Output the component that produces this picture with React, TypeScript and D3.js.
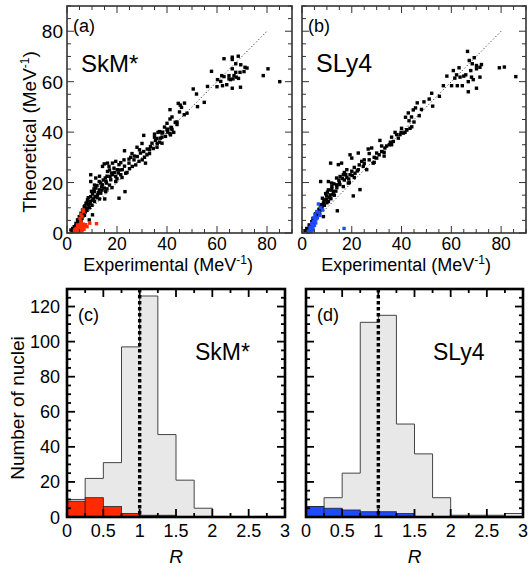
import * as d3 from "d3";
import React from "react";

// scatter: [experimental, theoretical] in MeV^-1
const skmBlack: [number, number][] = [
  [62.8,69.1],[66.1,69.7],[66.1,68.8],[68.5,70.1],[67.5,67.1],[69.5,66.7],[71.2,65.7],[72,65.4],[66.1,65.1],[67.5,63.7],
  [69.2,63.7],[70.8,64],[66.8,62.4],[67.7,61.8],[64.8,62.4],[61.9,62.4],[62.8,62],[60.2,60.8],[61.5,60.1],[64.8,61.1],
  [65.4,60.8],[66.4,61.1],[68.6,61.3],[63.9,58.8],[62.2,58.4],[60,58],[66.1,57.4],[69.4,57.8],[57.8,64.1],[56.2,58.1],
  [50.5,57.1],[51.8,55.1],[54.9,51.8],[52.2,50.1],[44.5,51.4],[45.3,50.7],[45.8,49.8],[41.2,48.9],[46.9,46.9],[41.2,45.2],
  [43.3,43.9],[44,43],[41.6,41.9],[40.3,41.2],[37,40.2],[38.3,40],[40.3,40],[41.2,39.4],[78.5,62.4],[80.4,65.1],[85.1,60],
  [36.4,39.9],[38,39.6],[40,40.9],[41.4,38.9],[39.4,38.3],[37.4,37.6],[35.4,36.7],[34,35.6],[33.4,34.3],[32.1,33.3],
  [36.1,35.4],[38,35.6],[41.8,41.6],[42.7,39.9],[30.7,38.7],[29.4,31.7],[30.7,32.3],[28.1,30.3],[30.1,29],[28.8,28.4],
  [31.4,27.7],[26.8,29],[26.1,26.4],[24.8,27.7],[23,32.6],[24.8,29.3],[22.8,29],[21.5,27.9],[20.8,27.1],[19.5,28.4],
  [18.2,27.7],[16.2,27.7],[14.9,27.4],[14.2,26.4],[16.8,26.4],[18.8,25.7],[20.1,25.1],[22.1,25.1],[23.5,23.7],[21.5,23.1],
  [19.5,22.4],[18.2,23.1],[16.2,24.4],[17.5,21.1],[19.5,20.4],[15.3,21.8],[15.8,19.8],[14.2,19.1],[12.9,20.4],[11.5,21.8],
  [9.5,23.1],[9.5,20.4],[11.5,17.8],[12.9,17.1],[14.9,17.8],[15.5,16.4],[13.5,15.8],[12.2,15.1],[10.9,16.4],[10.2,15.5],
  [9.5,14.4],[15.1,13.5],[20.8,13.8],[23.2,16.4],[8.2,13.1],[9.1,12.5],[7.6,11.8],[8.6,11.1],[6.9,10.4],[7.8,9.8],
  [6.2,9.1],[7.3,8.5],[5.6,7.8],[6.5,7.2],[4.9,6.5],[6,5.8],[4.2,5.2],[5.6,4.5],[3.6,3.8],[4.9,3.2],
  [2.9,2.5],[4.2,2.2],[2.3,1.8],[3.3,1.2],[1.6,1.2],[8.9,5.2],[10.2,7.2],
  [27,30.5],[25.5,30],[29,33],[32,31],[33,33],[34.5,33.5],[35,38],[36,37.5],[31,30],[27.5,27],
  [25,25.5],[23,26.5],[21,25],[24,24],[22,22],[20,21.5],[17,19],[18,18],[16,17.5],[13,13.5],
  [11,12.5],[10,11],[12,14],[10.5,13.5],[9,10],[8,9],[7,7],[5.5,5.5],[4.5,4],[3.5,2.8],
  [11,19],[13,22.5],[19,24],[17,25],[26,31.5],[28,34],[30,35.5],[39,42],[40,43.5],[42,46],
  [38,38],[36,34],[33,31.5],[44,44],[45,48],[48,47.5],[47,51.5],[42,41],[37,36],[35,39.2],
  [8.5,14],[9.8,16.5],[10.8,17.5],[12,18.8],[13.5,19.8],[14.5,21],[16,22.5],[17.8,23.8],[11.2,14.5],[12.5,16],
  [14,17],[7.2,10.8],[8.1,12.2],[9.3,11.8],[10.1,13],[6.6,8.1],[7.7,9.2],[5.2,6.1],[6.3,6.7],[4.4,4.8],
  [5.1,5],[3.8,3],[2.6,1.5],[3.9,1.6],[2.1,0.8],[4.7,3.9],[13.8,18.3],[15.6,20.5],[17.2,22.4],[20.5,23.8],
];
const skmRed: [number, number][] = [
  [6.4,9.1],[6.6,8.6],[5.6,7.4],[5.2,5.8],[6,6.5],[4.2,3.2],[5.6,2.5],[3.6,1.8],[4.6,1.4],[6.2,2.3],
  [5,1],[3,0.8],[7,2.8],[5.5,4.5],[4.8,2],[6.8,1.5],[9.1,3.9],[11.8,3.7],[7.5,3.3],[4,0.5],
  [5.8,0.7],[6.5,3.5],[3.5,0.6],[8,2.5],[4.4,2.6],[5.3,3.4],[6.1,1.2],[3.2,1.3],
];
const sly4Black: [number, number][] = [
  [66.5,72],[69.2,69.5],[67.2,68.4],[68.4,67.1],[70.1,66.4],[72.1,66.8],[71.5,65.7],[70.1,65.1],[67.8,64.4],[63.1,65.5],
  [60.8,64.4],[58.2,62.2],[62.1,62.7],[63.5,61.8],[61.4,61.4],[65,62.2],[65.8,62.7],[68.1,61.8],[68.8,60.8],[71.5,61.8],
  [66.8,60],[56.8,58.4],[60.1,58.4],[62.4,58.4],[64.4,58.4],[70.1,57.4],[66.8,56],[55.2,54.2],[52.1,55.4],[51.1,53.1],
  [52.5,50.3],[46.3,51.6],[45.6,49.6],[44.7,48.8],[42.7,47.6],[41.6,45.9],[47.1,46.5],[44.1,42.1],[43.4,41.5],[42.1,40.9],
  [41.4,39.9],[39.8,39.9],[79.3,65.5],[81.3,65.8],[85.9,62],
  [37.4,39.9],[39.4,39],[40.7,39.6],[42,40.9],[38.7,37.6],[36.7,36.3],[35.1,35],[33.3,33.7],[31.3,36.7],[32,32.3],
  [30,31.7],[28,33.7],[26.6,33.3],[22.6,31.7],[19.3,31],[20,29.7],[15.9,27.7],[14.6,27.1],[11.5,27.7],[24,28.4],
  [24.6,26.4],[26,25.1],[28.6,27.7],[30,29.7],[22.6,25.1],[21.3,23.7],[19.3,23.1],[18,25.1],[16.6,23.1],[15.3,22.4],
  [13.9,21.8],[7.5,20.4],[10.6,20.4],[11.9,19.8],[13.9,19.1],[16.6,18.4],[18.6,19.8],[23.3,17.2],[20.6,14.7],[10.6,17.1],
  [12.6,16.4],[11.3,15.1],[9.9,14.7],[9.2,13.1],[8.6,11.8],[10.6,12.5],[14.2,8.8],[7.9,9.8],[7.2,8.9],[6.6,7.8],
  [5.6,6.5],[4.8,5.4],[3.9,4.5],[2.9,3.2],[1.9,1.8],[1.2,0.9],[8.6,6.5],
  [34,34.5],[35.5,36],[36,38],[33,32],[31,31],[29,30],[27,29],[25,27.5],[23,27],[21,26],
  [20,24.5],[18,22],[17,21],[15,20],[14,18],[12,17.5],[13,15],[11,14],[10,12],[9,11],
  [8,10.5],[7,8],[6,7],[5,5.5],[4,4],[3,2.5],[2.5,1.5],[12,18.5],[17,24],[25,29],
  [27,31.5],[29,28],[32,34.5],[38,39],[40,41.5],[43,44.5],[44,46],[48,49],[49,52],[45,44],
  [36,35],[33,30.5],[21,22],[19,20],
  [8.2,13.8],[9.5,15.6],[10.2,16.2],[11.8,17],[12.8,19.5],[14.8,21],[16.2,21.6],[17.6,23.2],[11.6,13.6],[12.4,15.2],
  [13.6,16.6],[7.6,11.2],[8.8,12.8],[9.8,13.4],[6.8,9.4],[7.4,10.2],[5.4,7.6],[6.2,8.2],[4.4,5.8],[5.1,4.6],
  [3.4,2.2],[2.2,0.9],[4.2,3.4],[3.1,1.2],[15.2,19.2],[18.8,21.4],[20.2,22.8],[22.2,24.6],
];
const sly4Blue: [number, number][] = [
  [6.6,11.5],[8.3,9.1],[5.9,8.5],[5.2,7.2],[4.8,6],[3.9,3.8],[4.3,3],[3.2,2.3],[5.2,5.2],[4.3,1.2],
  [16.9,1.8],[7.2,7],[3.5,1.5],[2.8,0.8],[4,2],[5.5,4],[6.2,6],[3.6,0.5],[4.6,4.5],[7.5,10],
  [5,3],[2.5,0.4],[4.4,2.2],[5.8,5.6],[3.9,1],[6.8,8.2],
];

// histograms of R, bins of 0.25 from 0 to 3
const binStarts = d3.range(0, 3, 0.25);
const skmAll = [10, 22, 31, 97, 126, 47, 21, 5, 0, 0, 0, 0];
const skmSub = [9, 11, 6, 2, 1, 1, 0, 0, 0, 0, 0, 0];
const sly4All = [6, 11, 25, 111, 115, 53, 36, 11, 1, 1, 1, 2];
const sly4Sub = [6, 5, 4, 3, 3, 2, 0, 0, 0, 0, 0, 0];

const scatterTicks = d3.range(0, 91, 5);
const scatterLabels = [0, 20, 40, 60, 80];
const histXTicks = d3.range(0, 3.01, 0.25);
const histXLabels = [0, 0.5, 1, 1.5, 2, 2.5, 3];
const histYTicks = d3.range(0, 131, 5);
const histYLabels = [0, 20, 40, 60, 80, 100, 120];

const FONT = "Liberation Sans, Arial, Helvetica, sans-serif";

function Scatter({ x0, y0, w, h, black, hi, hiColor, tag, name, nameSize, yLabels }: any) {
  const x = d3.scaleLinear().domain([0, 90]).range([x0, x0 + w]);
  const y = d3.scaleLinear().domain([0, 90]).range([y0 + h, y0]);
  const s = 3.4;
  return (
    <g>
      <line x1={x(0)} y1={y(0)} x2={x(80)} y2={y(80)} stroke="#333" strokeWidth={1} strokeDasharray="1.2,2.2" />
      {black.map((d: number[], i: number) => (
        <rect key={"b" + i} x={x(d[0]) - s / 2} y={y(d[1]) - s / 2} width={s} height={s} fill="#000" />
      ))}
      {hi.map((d: number[], i: number) => (
        <rect key={"h" + i} x={x(d[0]) - s / 2} y={y(d[1]) - s / 2} width={s} height={s} fill={hiColor} />
      ))}
      {scatterTicks.map((t) => {
        const L = t % 20 === 0 ? 7 : 4;
        return (
          <g key={"t" + t} stroke="#333" strokeWidth={1}>
            <line x1={x(t)} x2={x(t)} y1={y0 + h} y2={y0 + h - L} />
            <line x1={x(t)} x2={x(t)} y1={y0} y2={y0 + L} />
            <line x1={x0} x2={x0 + L} y1={y(t)} y2={y(t)} />
            <line x1={x0 + w} x2={x0 + w - L} y1={y(t)} y2={y(t)} />
          </g>
        );
      })}
      <rect x={x0} y={y0} width={w} height={h} fill="none" stroke="#333" strokeWidth={1.6} />
      {scatterLabels.map((t) => (
        <text key={"xl" + t} x={x(t)} y={y0 + h + 17} textAnchor="middle" fontSize={17.5} fontFamily={FONT}>{t}</text>
      ))}
      {yLabels && scatterLabels.map((t) => (
        <text key={"yl" + t} x={x0 - 4} y={y(t) + 7} textAnchor="end" fontSize={19} fontFamily={FONT}>{t}</text>
      ))}
      <text x={x0 + 6} y={y0 + 26} fontSize={18} fontFamily={FONT}>{tag}</text>
      <text x={x0 + 14} y={y0 + 66} fontSize={nameSize} fontFamily={FONT}>{name}</text>
    </g>
  );
}

function Hist({ x0, y0, w, h, all, sub, subColor, tag, name, nameSize, yLabels }: any) {
  const x = d3.scaleLinear().domain([0, 3]).range([x0, x0 + w]);
  const y = d3.scaleLinear().domain([0, 130]).range([y0 + h, y0]);
  const area = d3.area<number>()
    .x((_, i) => x(i * 0.25))
    .y0(y(0))
    .y1((d) => y(d))
    .curve(d3.curveStepAfter);
  const line = d3.line<number>()
    .x((_, i) => x(i * 0.25))
    .y((d) => y(d))
    .curve(d3.curveStepAfter);
  const a = [...all, all[all.length - 1]];
  return (
    <g>
      <path d={area(a) || ""} fill="#e8e8e8" />
      <path d={line(a) || ""} fill="none" stroke="#444" strokeWidth={1} />
      {binStarts.map((b0, i) => sub[i] > 0 ? (
        <rect key={"s" + i} x={x(b0)} y={y(sub[i])} width={x(b0 + 0.25) - x(b0)} height={y(0) - y(sub[i])}
          fill={subColor} stroke="#222" strokeWidth={0.8} />
      ) : null)}
      <line x1={x(1)} x2={x(1)} y1={y0} y2={y0 + h} stroke="#000" strokeWidth={3.4} strokeDasharray="3.4,2.6" />
      {histXTicks.map((t) => {
        const L = Math.abs(t * 2 - Math.round(t * 2)) < 1e-6 ? 8 : 4;
        return (
          <g key={"xt" + t} stroke="#000" strokeWidth={1.8}>
            <line x1={x(t)} x2={x(t)} y1={y0 + h} y2={y0 + h - L} />
            <line x1={x(t)} x2={x(t)} y1={y0} y2={y0 + L} />
          </g>
        );
      })}
      {histYTicks.map((t) => {
        const L = t % 20 === 0 ? 8 : 4;
        return (
          <g key={"yt" + t} stroke="#000" strokeWidth={1.8}>
            <line x1={x0} x2={x0 + L} y1={y(t)} y2={y(t)} />
            <line x1={x0 + w} x2={x0 + w - L} y1={y(t)} y2={y(t)} />
          </g>
        );
      })}
      <rect x={x0} y={y0} width={w} height={h} fill="none" stroke="#000" strokeWidth={2.6} />
      {histXLabels.map((t) => (
        <text key={"xl" + t} x={x(t)} y={y0 + h + 20} textAnchor="middle" fontSize={18} fontFamily={FONT}>{t}</text>
      ))}
      {yLabels && histYLabels.map((t) => (
        <text key={"yl" + t} x={x0 - 7} y={y(t) + 6.5} textAnchor="end" fontSize={18} fontFamily={FONT}>{t}</text>
      ))}
      <text x={x0 + 11} y={y0 + 32} fontSize={18} fontFamily={FONT}>{tag}</text>
      <text x={x0 + w - 90} y={y0 + 71} fontSize={nameSize} fontFamily={FONT}>{name}</text>
      <text x={x0 + w / 2} y={y0 + h + 46} textAnchor="middle" fontSize={19} fontStyle="italic" fontFamily={FONT}>R</text>
    </g>
  );
}

function Unit() {
  return (
    <>
      (MeV<tspan fontSize={12} dy={-7}>-1</tspan><tspan dy={7}>)</tspan>
    </>
  );
}

export default function App() {
  return (
    <svg width={528} height={569} style={{ position: "absolute", left: 0, top: 0, background: "#fff" }}>
      <Scatter x0={67} y0={6} w={225} h={227} black={skmBlack} hi={skmRed} hiColor="#ff2a00"
        tag="(a)" name="SkM*" nameSize={24} yLabels={true} />
      <Scatter x0={302} y0={6} w={224} h={227} black={sly4Black} hi={sly4Blue} hiColor="#1f4bff"
        tag="(b)" name="SLy4" nameSize={25} yLabels={false} />
      <text x={168} y={271} textAnchor="middle" fontSize={18} fontFamily={FONT}>Experimental <Unit /></text>
      <text x={406} y={271} textAnchor="middle" fontSize={18} fontFamily={FONT}>Experimental <Unit /></text>
      <text transform="translate(36,132) rotate(-90)" textAnchor="middle" fontSize={19} fontFamily={FONT}>Theoretical <Unit /></text>

      <Hist x0={67} y0={289} w={218} h={228} all={skmAll} sub={skmSub} subColor="#ff2a00"
        tag="(c)" name="SkM*" nameSize={23} yLabels={true} />
      <Hist x0={306} y0={289} w={217} h={228} all={sly4All} sub={sly4Sub} subColor="#1f4bff"
        tag="(d)" name="SLy4" nameSize={23} yLabels={false} />
      <text transform="translate(24,408) rotate(-90)" textAnchor="middle" fontSize={19} fontFamily={FONT}>Number of nuclei</text>
    </svg>
  );
}
